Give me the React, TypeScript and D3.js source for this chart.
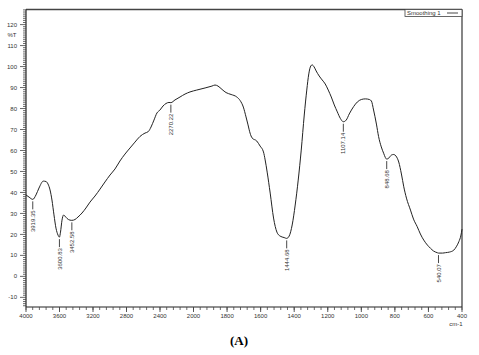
import React from "react";
import * as d3 from "d3";

const wavenumbers = [4000,3964,3919,3881,3845,3793,3761,3737,3713,3690,3666,3642,3618,3601,3588,3570,3552,3534,3510,3475,3453,3415,3379,3331,3284,3236,3176,3116,3057,2997,2937,2878,2818,2758,2699,2639,2579,2540,2507,2472,2436,2400,2364,2328,2293,2270,2221,2161,2101,2042,1981,1931,1890,1872,1854,1830,1806,1776,1742,1722,1703,1687,1675,1663,1651,1623,1603,1583,1573,1561,1543,1523,1503,1484,1460,1445,1430,1412,1394,1376,1358,1340,1325,1313,1301,1293,1281,1269,1251,1233,1215,1197,1179,1161,1143,1125,1107,1090,1072,1046,1024,1000,976,952,940,927,910,897,881,867,857,849,836,821,807,794,777,761,747,731,707,689,667,648,628,606,588,570,548,540,516,498,474,449,432,419,406,400];
const transmittance = [38.8,37.8,36.7,38.8,42.1,45.4,45.2,44.0,41.2,36.4,29.3,23.0,19.7,18.7,21.1,26.8,29.2,28.7,27.6,26.8,26.7,27.1,28.3,30.2,32.6,35.4,38.3,41.6,45.0,48.3,51.2,55.0,58.3,61.2,64.0,66.7,68.3,69.0,71.2,74.5,77.9,79.3,81.2,82.4,82.9,82.8,84.1,85.5,86.9,87.9,88.8,89.8,90.7,91.2,90.7,89.1,87.6,86.7,85.5,83.8,80.7,76.0,72.2,68.3,66.0,64.5,62.1,59.3,55.5,49.7,39.7,27.8,21.1,19.2,18.5,18.1,19.2,24.5,34.0,45.9,60.2,76.9,88.8,96.5,100.3,100.8,99.8,97.9,95.5,93.6,91.7,88.8,85.5,81.7,78.4,75.3,73.7,74.5,77.4,80.9,83.1,84.3,84.6,84.3,83.6,79.3,72.6,66.6,61.7,58.7,56.7,55.9,56.4,57.8,58.1,57.4,54.5,48.8,42.7,37.3,31.6,27.3,23.7,20.2,17.3,14.9,13.4,12.1,11.3,11.1,11.1,11.3,11.6,12.5,14.4,16.5,19.7,22.5];

const peakLabels = ["3919.35","3600.83","3452.58","2270.22","1444.68","1107.14","848.68","540.07"];
const peakWavenumbers = [3919.35,3600.83,3452.58,2270.22,1444.68,1107.14,848.68,540.07];
const peakValues = [36.7,18.7,26.7,82.8,18.1,73.7,55.9,11.1];

const xTickValues = [4000,3600,3200,2800,2400,2000,1800,1600,1400,1200,1000,800,600,400];
const yTickValues = [-10,0,10,20,30,40,50,60,70,80,90,100,110,120];

export default function App() {
  const W = 479, H = 355;
  const left = 26, right = 462, top = 9.5, bottom = 307;
  const x = d3.scaleLinear().domain([4000, 2000, 400]).range([left, 193.5, right]);
  const y = d3.scaleLinear().domain([-14.6, 127.2]).range([bottom, top]);

  const pts = wavenumbers.map((w, i) => [x(w), y(transmittance[i])] as [number, number]);
  const line = d3.line().curve(d3.curveMonotoneX)(pts) || "";

  const xMinor: number[] = [];
  for (let v = 4000; v > 2000; v -= 80) xMinor.push(v);
  for (let v = 2000; v >= 400; v -= 40) xMinor.push(v);
  const yMinor: number[] = [];
  for (let v = -14; v <= 127; v += 1) yMinor.push(v);

  const font = "Arial, 'Liberation Sans', sans-serif";
  const tc = "#333";

  return (
    <svg width={W} height={H} style={{ position: "absolute", left: 0, top: 0, background: "#fff" }} fontFamily={font}>
      <rect x={0} y={0} width={W} height={H} fill="#fff" />
      {/* frame */}
      <line x1={left} x2={right} y1={top} y2={top} stroke="#444" strokeWidth={1.3} />
      <line x1={right} x2={right} y1={top} y2={bottom} stroke="#444" strokeWidth={1.3} />
      <line x1={left} x2={left} y1={top} y2={bottom} stroke="#222" strokeWidth={1.2} />
      <line x1={left} x2={right} y1={bottom} y2={bottom} stroke="#222" strokeWidth={1.2} />

      {/* y ticks */}
      {yMinor.map((v) => (
        <line key={"ym" + v} x1={left - (v % 10 === 0 ? 6 : 3)} x2={left} y1={y(v)} y2={y(v)} stroke="#444" strokeWidth={0.8} />
      ))}
      {yTickValues.map((v) => (
        <text key={"yt" + v} x={17} y={y(v)} dy="0.35em" textAnchor="end" fontSize={6} fill={tc}>{v}</text>
      ))}
      <text x={12} y={35} dy="0.35em" textAnchor="middle" fontSize={6} fill={tc}>%T</text>

      {/* x ticks */}
      {xMinor.map((v) => (
        <line key={"xm" + v} x1={x(v)} x2={x(v)} y1={bottom} y2={bottom + 3} stroke="#444" strokeWidth={0.8} />
      ))}
      {xTickValues.map((v) => (
        <g key={"xt" + v}>
          <line x1={x(v)} x2={x(v)} y1={bottom} y2={bottom + 5} stroke="#444" strokeWidth={0.9} />
          <text x={x(v)} y={318} textAnchor="middle" fontSize={6} fill={tc}>{v}</text>
        </g>
      ))}
      <text x={456} y={326} textAnchor="middle" fontSize={6} fill={tc}>cm-1</text>

      {/* curve */}
      <path d={line} fill="none" stroke="#222" strokeWidth={1} />

      {/* peak labels */}
      {peakLabels.map((lab, i) => {
        const px = x(peakWavenumbers[i]);
        const py = y(peakValues[i]);
        return (
          <g key={lab}>
            <line x1={px} x2={px} y1={py + 2} y2={py + 10} stroke="#333" strokeWidth={0.9} />
            <text transform={`translate(${px},${py + 11}) rotate(-90)`} dy="0.35em" textAnchor="end" fontSize={6} fill={tc}>{lab}</text>
          </g>
        );
      })}

      {/* legend */}
      <rect x={405} y={top} width={57} height={7} fill="#fff" stroke="#444" strokeWidth={0.8} />
      <text x={407} y={top + 3.6} dy="0.35em" fontSize={6} fill={tc}>Smoothing 1</text>
      <line x1={447} x2={458} y1={top + 3.5} y2={top + 3.5} stroke="#333" strokeWidth={0.9} />

      <text x={239} y={345} textAnchor="middle" fontSize={13} fontWeight="bold" fontFamily="'Liberation Serif', 'Times New Roman', serif" fill="#000">(A)</text>
    </svg>
  );
}
